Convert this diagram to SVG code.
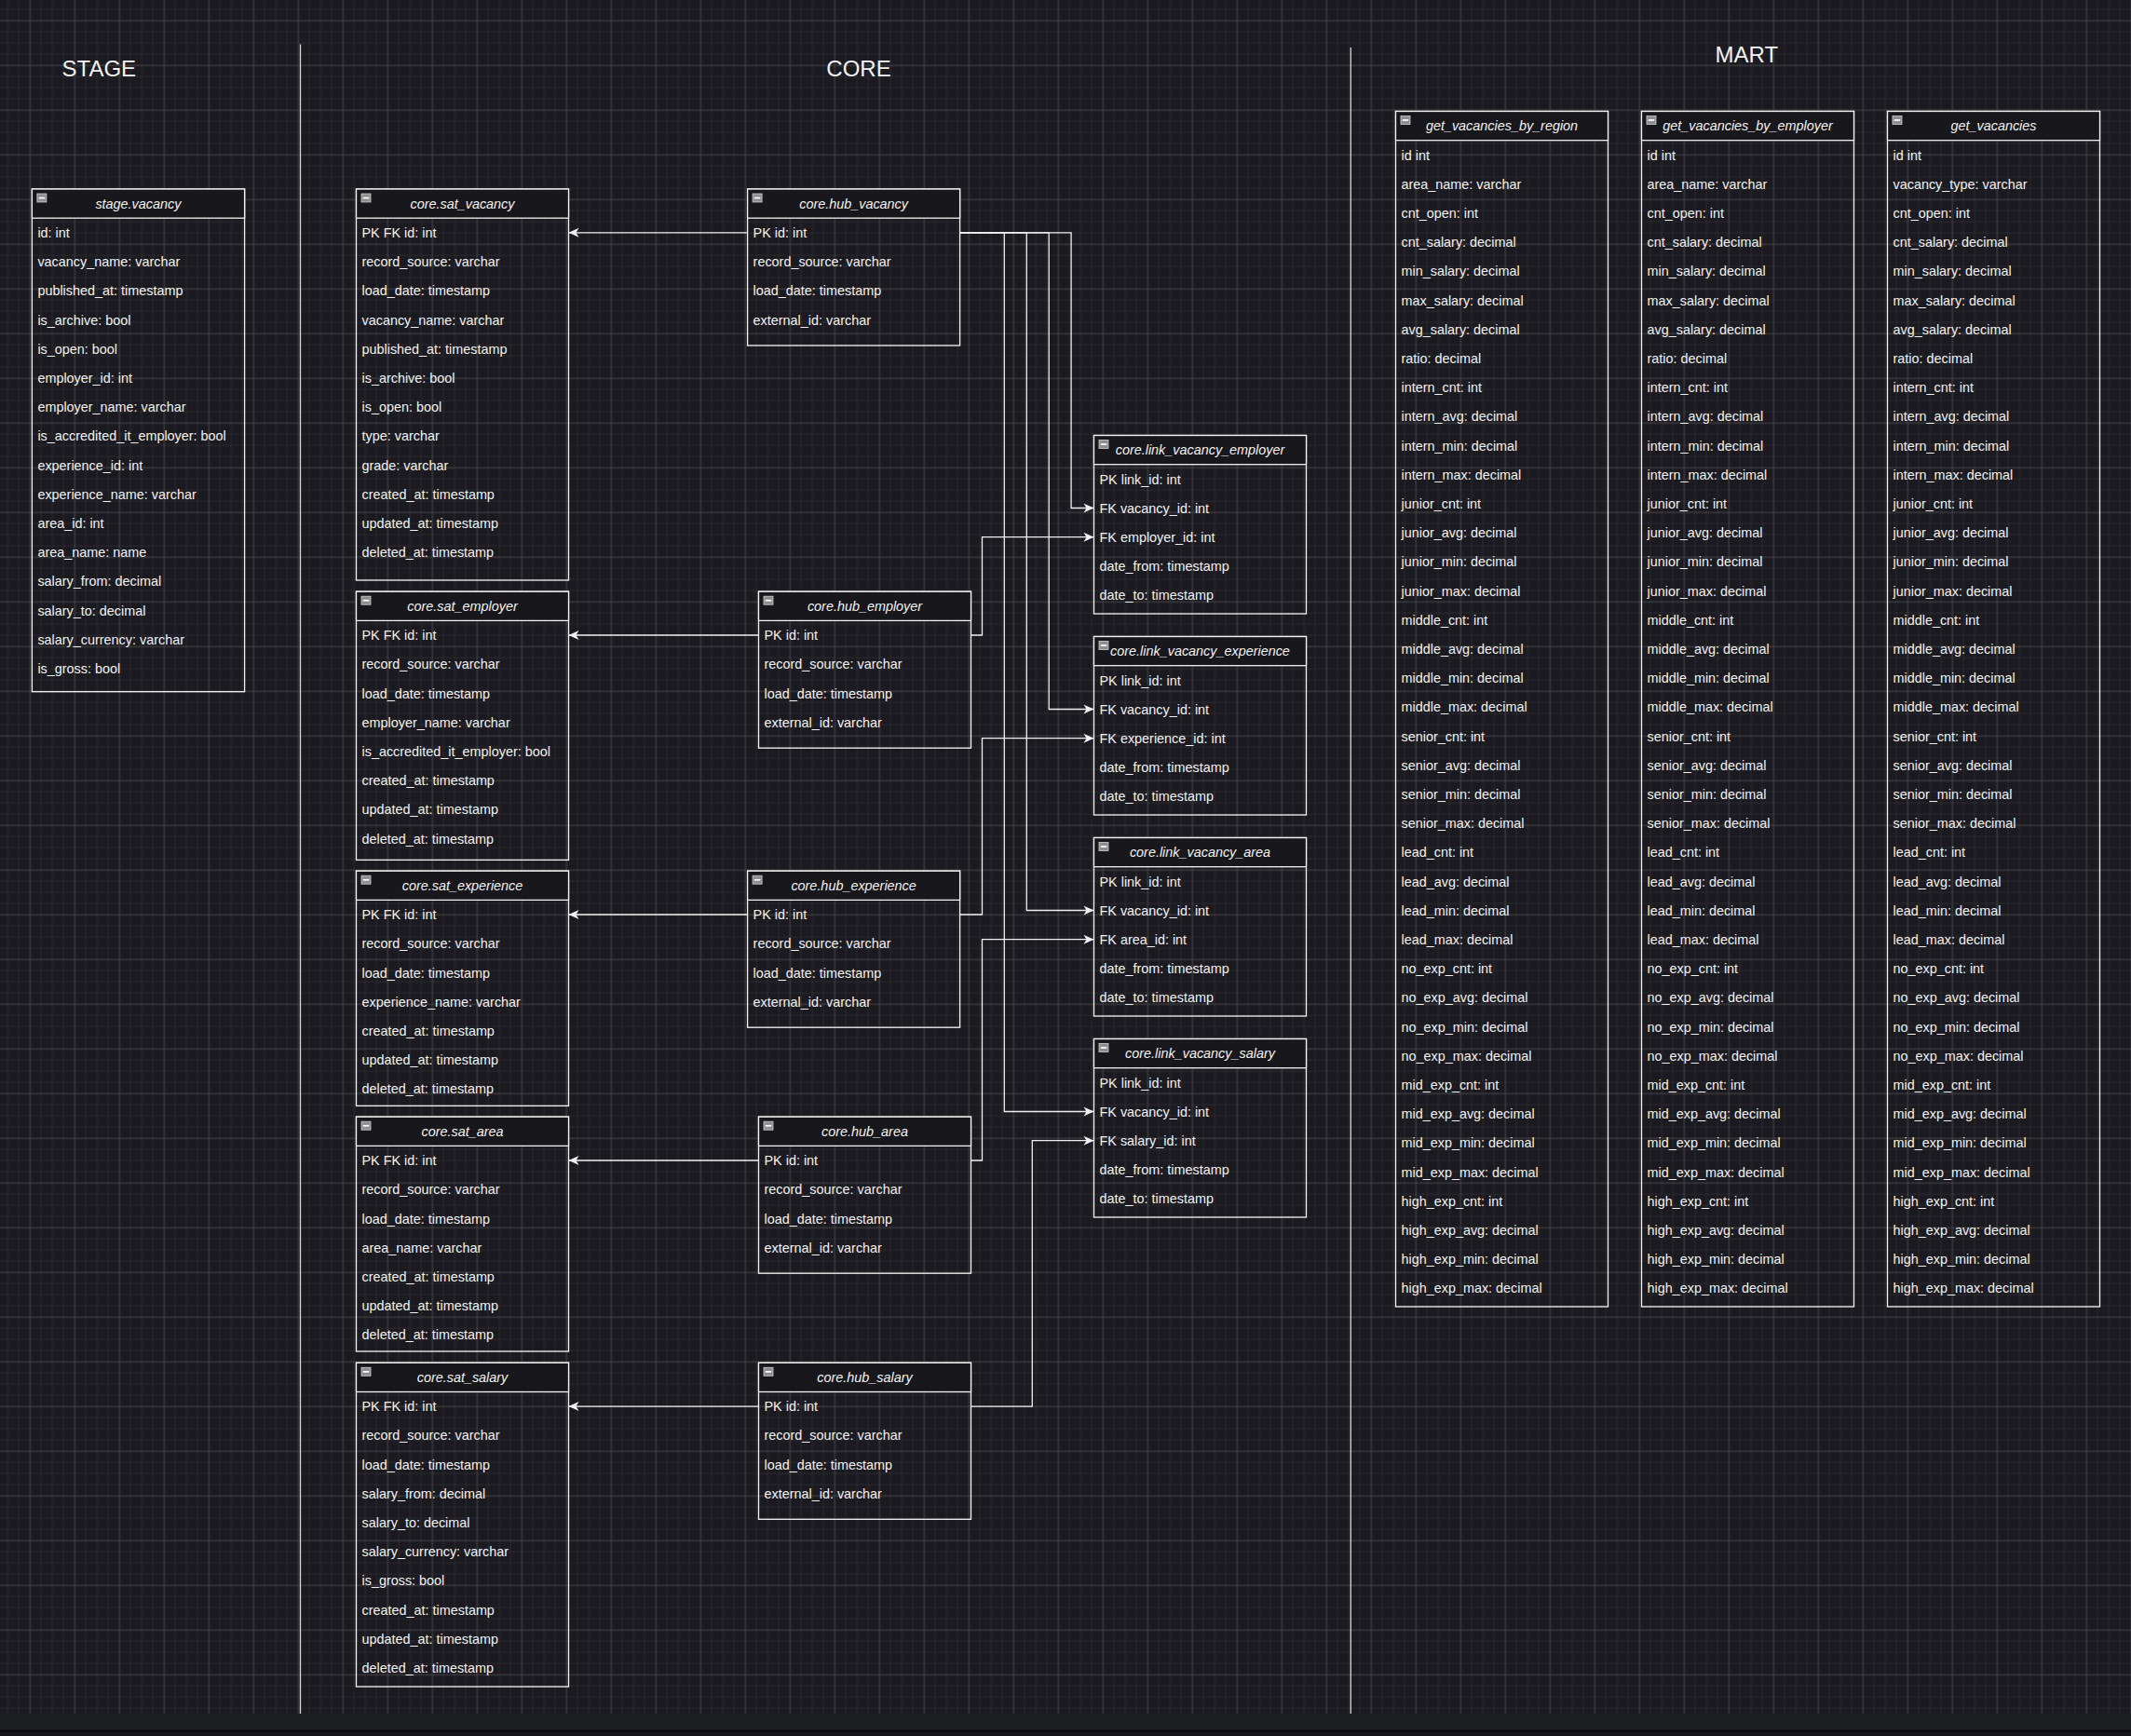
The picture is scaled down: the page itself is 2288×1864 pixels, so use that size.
<svg xmlns="http://www.w3.org/2000/svg" xmlns:xlink="http://www.w3.org/1999/xlink" width="2288" height="1864" viewBox="0 0 2288 1864">
<style>
.t{font-family:"Liberation Sans",Arial,Helvetica,sans-serif;font-size:14.4px;fill:#f2f2f2}
.h{font-style:italic;text-anchor:middle}
.title{font-family:"Liberation Sans",Arial,Helvetica,sans-serif;font-size:24px;fill:#f2f2f2;text-anchor:middle}
.box{fill:none;stroke:#f4f4f4;stroke-width:1.3}
.hdr{fill:#18171c;stroke:#f4f4f4;stroke-width:1.3}
.sep{stroke:#d8d8d8;stroke-width:1.3}
.conn{fill:none;stroke:#f0f0f0;stroke-width:1.3}
</style>
<defs>
<pattern id="grid" width="48" height="48" patternUnits="userSpaceOnUse" x="32.3" y="22.3">
<rect width="48" height="48" fill="#1b1a20"/>
<path d="M12 0V48M24 0V48M36 0V48M0 12H48M0 24H48M0 36H48" stroke="#2a292f" stroke-width="1"/>
<path d="M0 0V48M48 0V48M0 0H48M0 48H48" stroke="#48474c" stroke-width="1"/>
</pattern>
<g id="icon"><rect x="0" y="0" width="10" height="9" fill="#8e8e8e" stroke="#cfcfcf" stroke-width="0.8"/><rect x="1.8" y="3.7" width="6.4" height="1.7" fill="#ffffff"/></g>
<marker id="arr" viewBox="-12 -6 13 12" refX="0" refY="0" markerWidth="13" markerHeight="12" markerUnits="userSpaceOnUse" orient="auto">
<path d="M0,0 L-11,-5 L-8,0 L-11,5 Z" fill="#f0f0f0"/>
</marker>
</defs>

<rect x="0" y="0" width="2288" height="1840" fill="url(#grid)"/>
<rect x="0" y="1840" width="2288" height="24" fill="#1d1e20"/>
<rect x="0" y="1857.5" width="2288" height="2.5" fill="#0b0b0c"/>
<rect x="0" y="1860" width="2288" height="4" fill="#17171a"/>

<g id="labels">
<text class="title" x="106.3" y="82.3">STAGE</text>
<text class="title" x="922" y="82.3">CORE</text>
<text class="title" x="1875.3" y="67.3">MART</text>
<line class="sep" x1="322.5" y1="47.5" x2="322.5" y2="1840"/>
<line class="sep" x1="1450.3" y1="51" x2="1450.3" y2="1840"/>
</g>

<g id="stage_vacancy" transform="translate(34.4,203)">
<rect class="box" width="228.2" height="539.7"/><rect class="hdr" width="228.2" height="31.2"/><use xlink:href="#icon" x="5.5" y="5"/>
<text class="t h" x="114" y="20.7">stage.vacancy</text>
<text class="t" x="6" y="52">id: int</text>
<text class="t" x="6" y="83.2">vacancy_name: varchar</text>
<text class="t" x="6" y="114.4">published_at: timestamp</text>
<text class="t" x="6" y="145.6">is_archive: bool</text>
<text class="t" x="6" y="176.8">is_open: bool</text>
<text class="t" x="6" y="208">employer_id: int</text>
<text class="t" x="6" y="239.2">employer_name: varchar</text>
<text class="t" x="6" y="270.4">is_accredited_it_employer: bool</text>
<text class="t" x="6" y="301.6">experience_id: int</text>
<text class="t" x="6" y="332.8">experience_name: varchar</text>
<text class="t" x="6" y="364">area_id: int</text>
<text class="t" x="6" y="395.2">area_name: name</text>
<text class="t" x="6" y="426.4">salary_from: decimal</text>
<text class="t" x="6" y="457.6">salary_to: decimal</text>
<text class="t" x="6" y="488.8">salary_currency: varchar</text>
<text class="t" x="6" y="520">is_gross: bool</text>
</g>

<g id="sat_vacancy" transform="translate(382.5,203)">
<rect class="box" width="228" height="420"/><rect class="hdr" width="228" height="31.2"/><use xlink:href="#icon" x="5.5" y="5"/>
<text class="t h" x="114" y="20.7">core.sat_vacancy</text>
<text class="t" x="6" y="52">PK FK id: int</text>
<text class="t" x="6" y="83.2">record_source: varchar</text>
<text class="t" x="6" y="114.4">load_date: timestamp</text>
<text class="t" x="6" y="145.6">vacancy_name: varchar</text>
<text class="t" x="6" y="176.8">published_at: timestamp</text>
<text class="t" x="6" y="208">is_archive: bool</text>
<text class="t" x="6" y="239.2">is_open: bool</text>
<text class="t" x="6" y="270.4">type: varchar</text>
<text class="t" x="6" y="301.6">grade: varchar</text>
<text class="t" x="6" y="332.8">created_at: timestamp</text>
<text class="t" x="6" y="364">updated_at: timestamp</text>
<text class="t" x="6" y="395.2">deleted_at: timestamp</text>
</g>

<g id="hub_vacancy" transform="translate(802.6,203)">
<rect class="box" width="228" height="168"/><rect class="hdr" width="228" height="31.2"/><use xlink:href="#icon" x="5.5" y="5"/>
<text class="t h" x="114" y="20.7">core.hub_vacancy</text>
<text class="t" x="6" y="52">PK id: int</text>
<text class="t" x="6" y="83.2">record_source: varchar</text>
<text class="t" x="6" y="114.4">load_date: timestamp</text>
<text class="t" x="6" y="145.6">external_id: varchar</text>
</g>

<g id="link_vacancy_employer" transform="translate(1174.5,467.5)">
<rect class="box" width="228" height="191.5"/><rect class="hdr" width="228" height="31.2"/><use xlink:href="#icon" x="5.5" y="5"/>
<text class="t h" x="114" y="20.7">core.link_vacancy_employer</text>
<text class="t" x="6" y="52">PK link_id: int</text>
<text class="t" x="6" y="83.2">FK vacancy_id: int</text>
<text class="t" x="6" y="114.4">FK employer_id: int</text>
<text class="t" x="6" y="145.6">date_from: timestamp</text>
<text class="t" x="6" y="176.8">date_to: timestamp</text>
</g>

<g id="sat_employer" transform="translate(382.5,635.2)">
<rect class="box" width="228" height="288.2"/><rect class="hdr" width="228" height="31.2"/><use xlink:href="#icon" x="5.5" y="5"/>
<text class="t h" x="114" y="20.7">core.sat_employer</text>
<text class="t" x="6" y="52">PK FK id: int</text>
<text class="t" x="6" y="83.2">record_source: varchar</text>
<text class="t" x="6" y="114.4">load_date: timestamp</text>
<text class="t" x="6" y="145.6">employer_name: varchar</text>
<text class="t" x="6" y="176.8">is_accredited_it_employer: bool</text>
<text class="t" x="6" y="208">created_at: timestamp</text>
<text class="t" x="6" y="239.2">updated_at: timestamp</text>
<text class="t" x="6" y="270.4">deleted_at: timestamp</text>
</g>

<g id="hub_employer" transform="translate(814.5,635.2)">
<rect class="box" width="228" height="168"/><rect class="hdr" width="228" height="31.2"/><use xlink:href="#icon" x="5.5" y="5"/>
<text class="t h" x="114" y="20.7">core.hub_employer</text>
<text class="t" x="6" y="52">PK id: int</text>
<text class="t" x="6" y="83.2">record_source: varchar</text>
<text class="t" x="6" y="114.4">load_date: timestamp</text>
<text class="t" x="6" y="145.6">external_id: varchar</text>
</g>

<g id="link_vacancy_experience" transform="translate(1174.5,683.5)">
<rect class="box" width="228" height="191.5"/><rect class="hdr" width="228" height="31.2"/><use xlink:href="#icon" x="5.5" y="5"/>
<text class="t h" x="114" y="20.7">core.link_vacancy_experience</text>
<text class="t" x="6" y="52">PK link_id: int</text>
<text class="t" x="6" y="83.2">FK vacancy_id: int</text>
<text class="t" x="6" y="114.4">FK experience_id: int</text>
<text class="t" x="6" y="145.6">date_from: timestamp</text>
<text class="t" x="6" y="176.8">date_to: timestamp</text>
</g>

<g id="sat_experience" transform="translate(382.5,935.2)">
<rect class="box" width="228" height="252.2"/><rect class="hdr" width="228" height="31.2"/><use xlink:href="#icon" x="5.5" y="5"/>
<text class="t h" x="114" y="20.7">core.sat_experience</text>
<text class="t" x="6" y="52">PK FK id: int</text>
<text class="t" x="6" y="83.2">record_source: varchar</text>
<text class="t" x="6" y="114.4">load_date: timestamp</text>
<text class="t" x="6" y="145.6">experience_name: varchar</text>
<text class="t" x="6" y="176.8">created_at: timestamp</text>
<text class="t" x="6" y="208">updated_at: timestamp</text>
<text class="t" x="6" y="239.2">deleted_at: timestamp</text>
</g>

<g id="hub_experience" transform="translate(802.6,935.2)">
<rect class="box" width="228" height="168"/><rect class="hdr" width="228" height="31.2"/><use xlink:href="#icon" x="5.5" y="5"/>
<text class="t h" x="114" y="20.7">core.hub_experience</text>
<text class="t" x="6" y="52">PK id: int</text>
<text class="t" x="6" y="83.2">record_source: varchar</text>
<text class="t" x="6" y="114.4">load_date: timestamp</text>
<text class="t" x="6" y="145.6">external_id: varchar</text>
</g>

<g id="link_vacancy_area" transform="translate(1174.5,899.5)">
<rect class="box" width="228" height="191.5"/><rect class="hdr" width="228" height="31.2"/><use xlink:href="#icon" x="5.5" y="5"/>
<text class="t h" x="114" y="20.7">core.link_vacancy_area</text>
<text class="t" x="6" y="52">PK link_id: int</text>
<text class="t" x="6" y="83.2">FK vacancy_id: int</text>
<text class="t" x="6" y="114.4">FK area_id: int</text>
<text class="t" x="6" y="145.6">date_from: timestamp</text>
<text class="t" x="6" y="176.8">date_to: timestamp</text>
</g>

<g id="sat_area" transform="translate(382.5,1199.2)">
<rect class="box" width="228" height="251.8"/><rect class="hdr" width="228" height="31.2"/><use xlink:href="#icon" x="5.5" y="5"/>
<text class="t h" x="114" y="20.7">core.sat_area</text>
<text class="t" x="6" y="52">PK FK id: int</text>
<text class="t" x="6" y="83.2">record_source: varchar</text>
<text class="t" x="6" y="114.4">load_date: timestamp</text>
<text class="t" x="6" y="145.6">area_name: varchar</text>
<text class="t" x="6" y="176.8">created_at: timestamp</text>
<text class="t" x="6" y="208">updated_at: timestamp</text>
<text class="t" x="6" y="239.2">deleted_at: timestamp</text>
</g>

<g id="hub_area" transform="translate(814.5,1199.2)">
<rect class="box" width="228" height="168"/><rect class="hdr" width="228" height="31.2"/><use xlink:href="#icon" x="5.5" y="5"/>
<text class="t h" x="114" y="20.7">core.hub_area</text>
<text class="t" x="6" y="52">PK id: int</text>
<text class="t" x="6" y="83.2">record_source: varchar</text>
<text class="t" x="6" y="114.4">load_date: timestamp</text>
<text class="t" x="6" y="145.6">external_id: varchar</text>
</g>

<g id="link_vacancy_salary" transform="translate(1174.5,1115.5)">
<rect class="box" width="228" height="191.5"/><rect class="hdr" width="228" height="31.2"/><use xlink:href="#icon" x="5.5" y="5"/>
<text class="t h" x="114" y="20.7">core.link_vacancy_salary</text>
<text class="t" x="6" y="52">PK link_id: int</text>
<text class="t" x="6" y="83.2">FK vacancy_id: int</text>
<text class="t" x="6" y="114.4">FK salary_id: int</text>
<text class="t" x="6" y="145.6">date_from: timestamp</text>
<text class="t" x="6" y="176.8">date_to: timestamp</text>
</g>

<g id="sat_salary" transform="translate(382.5,1463.3)">
<rect class="box" width="228" height="347.7"/><rect class="hdr" width="228" height="31.2"/><use xlink:href="#icon" x="5.5" y="5"/>
<text class="t h" x="114" y="20.7">core.sat_salary</text>
<text class="t" x="6" y="52">PK FK id: int</text>
<text class="t" x="6" y="83.2">record_source: varchar</text>
<text class="t" x="6" y="114.4">load_date: timestamp</text>
<text class="t" x="6" y="145.6">salary_from: decimal</text>
<text class="t" x="6" y="176.8">salary_to: decimal</text>
<text class="t" x="6" y="208">salary_currency: varchar</text>
<text class="t" x="6" y="239.2">is_gross: bool</text>
<text class="t" x="6" y="270.4">created_at: timestamp</text>
<text class="t" x="6" y="301.6">updated_at: timestamp</text>
<text class="t" x="6" y="332.8">deleted_at: timestamp</text>
</g>

<g id="hub_salary" transform="translate(814.5,1463.3)">
<rect class="box" width="228" height="168"/><rect class="hdr" width="228" height="31.2"/><use xlink:href="#icon" x="5.5" y="5"/>
<text class="t h" x="114" y="20.7">core.hub_salary</text>
<text class="t" x="6" y="52">PK id: int</text>
<text class="t" x="6" y="83.2">record_source: varchar</text>
<text class="t" x="6" y="114.4">load_date: timestamp</text>
<text class="t" x="6" y="145.6">external_id: varchar</text>
</g>

<g id="get_vacancies_by_region" transform="translate(1498.5,119.5)">
<rect class="box" width="228" height="1283.5"/><rect class="hdr" width="228" height="31.2"/><use xlink:href="#icon" x="5.5" y="5"/>
<text class="t h" x="114" y="20.7">get_vacancies_by_region</text>
<text class="t" x="6" y="52">id int</text>
<text class="t" x="6" y="83.2">area_name: varchar</text>
<text class="t" x="6" y="114.4">cnt_open: int</text>
<text class="t" x="6" y="145.6">cnt_salary: decimal</text>
<text class="t" x="6" y="176.8">min_salary: decimal</text>
<text class="t" x="6" y="208">max_salary: decimal</text>
<text class="t" x="6" y="239.2">avg_salary: decimal</text>
<text class="t" x="6" y="270.4">ratio: decimal</text>
<text class="t" x="6" y="301.6">intern_cnt: int</text>
<text class="t" x="6" y="332.8">intern_avg: decimal</text>
<text class="t" x="6" y="364">intern_min: decimal</text>
<text class="t" x="6" y="395.2">intern_max: decimal</text>
<text class="t" x="6" y="426.4">junior_cnt: int</text>
<text class="t" x="6" y="457.6">junior_avg: decimal</text>
<text class="t" x="6" y="488.8">junior_min: decimal</text>
<text class="t" x="6" y="520">junior_max: decimal</text>
<text class="t" x="6" y="551.2">middle_cnt: int</text>
<text class="t" x="6" y="582.4">middle_avg: decimal</text>
<text class="t" x="6" y="613.6">middle_min: decimal</text>
<text class="t" x="6" y="644.8">middle_max: decimal</text>
<text class="t" x="6" y="676">senior_cnt: int</text>
<text class="t" x="6" y="707.2">senior_avg: decimal</text>
<text class="t" x="6" y="738.4">senior_min: decimal</text>
<text class="t" x="6" y="769.6">senior_max: decimal</text>
<text class="t" x="6" y="800.8">lead_cnt: int</text>
<text class="t" x="6" y="832">lead_avg: decimal</text>
<text class="t" x="6" y="863.2">lead_min: decimal</text>
<text class="t" x="6" y="894.4">lead_max: decimal</text>
<text class="t" x="6" y="925.6">no_exp_cnt: int</text>
<text class="t" x="6" y="956.8">no_exp_avg: decimal</text>
<text class="t" x="6" y="988">no_exp_min: decimal</text>
<text class="t" x="6" y="1019.2">no_exp_max: decimal</text>
<text class="t" x="6" y="1050.4">mid_exp_cnt: int</text>
<text class="t" x="6" y="1081.6">mid_exp_avg: decimal</text>
<text class="t" x="6" y="1112.8">mid_exp_min: decimal</text>
<text class="t" x="6" y="1144">mid_exp_max: decimal</text>
<text class="t" x="6" y="1175.2">high_exp_cnt: int</text>
<text class="t" x="6" y="1206.4">high_exp_avg: decimal</text>
<text class="t" x="6" y="1237.6">high_exp_min: decimal</text>
<text class="t" x="6" y="1268.8">high_exp_max: decimal</text>
</g>

<g id="get_vacancies_by_employer" transform="translate(1762.5,119.5)">
<rect class="box" width="228" height="1283.5"/><rect class="hdr" width="228" height="31.2"/><use xlink:href="#icon" x="5.5" y="5"/>
<text class="t h" x="114" y="20.7">get_vacancies_by_employer</text>
<text class="t" x="6" y="52">id int</text>
<text class="t" x="6" y="83.2">area_name: varchar</text>
<text class="t" x="6" y="114.4">cnt_open: int</text>
<text class="t" x="6" y="145.6">cnt_salary: decimal</text>
<text class="t" x="6" y="176.8">min_salary: decimal</text>
<text class="t" x="6" y="208">max_salary: decimal</text>
<text class="t" x="6" y="239.2">avg_salary: decimal</text>
<text class="t" x="6" y="270.4">ratio: decimal</text>
<text class="t" x="6" y="301.6">intern_cnt: int</text>
<text class="t" x="6" y="332.8">intern_avg: decimal</text>
<text class="t" x="6" y="364">intern_min: decimal</text>
<text class="t" x="6" y="395.2">intern_max: decimal</text>
<text class="t" x="6" y="426.4">junior_cnt: int</text>
<text class="t" x="6" y="457.6">junior_avg: decimal</text>
<text class="t" x="6" y="488.8">junior_min: decimal</text>
<text class="t" x="6" y="520">junior_max: decimal</text>
<text class="t" x="6" y="551.2">middle_cnt: int</text>
<text class="t" x="6" y="582.4">middle_avg: decimal</text>
<text class="t" x="6" y="613.6">middle_min: decimal</text>
<text class="t" x="6" y="644.8">middle_max: decimal</text>
<text class="t" x="6" y="676">senior_cnt: int</text>
<text class="t" x="6" y="707.2">senior_avg: decimal</text>
<text class="t" x="6" y="738.4">senior_min: decimal</text>
<text class="t" x="6" y="769.6">senior_max: decimal</text>
<text class="t" x="6" y="800.8">lead_cnt: int</text>
<text class="t" x="6" y="832">lead_avg: decimal</text>
<text class="t" x="6" y="863.2">lead_min: decimal</text>
<text class="t" x="6" y="894.4">lead_max: decimal</text>
<text class="t" x="6" y="925.6">no_exp_cnt: int</text>
<text class="t" x="6" y="956.8">no_exp_avg: decimal</text>
<text class="t" x="6" y="988">no_exp_min: decimal</text>
<text class="t" x="6" y="1019.2">no_exp_max: decimal</text>
<text class="t" x="6" y="1050.4">mid_exp_cnt: int</text>
<text class="t" x="6" y="1081.6">mid_exp_avg: decimal</text>
<text class="t" x="6" y="1112.8">mid_exp_min: decimal</text>
<text class="t" x="6" y="1144">mid_exp_max: decimal</text>
<text class="t" x="6" y="1175.2">high_exp_cnt: int</text>
<text class="t" x="6" y="1206.4">high_exp_avg: decimal</text>
<text class="t" x="6" y="1237.6">high_exp_min: decimal</text>
<text class="t" x="6" y="1268.8">high_exp_max: decimal</text>
</g>

<g id="get_vacancies" transform="translate(2026.5,119.5)">
<rect class="box" width="228" height="1283.5"/><rect class="hdr" width="228" height="31.2"/><use xlink:href="#icon" x="5.5" y="5"/>
<text class="t h" x="114" y="20.7">get_vacancies</text>
<text class="t" x="6" y="52">id int</text>
<text class="t" x="6" y="83.2">vacancy_type: varchar</text>
<text class="t" x="6" y="114.4">cnt_open: int</text>
<text class="t" x="6" y="145.6">cnt_salary: decimal</text>
<text class="t" x="6" y="176.8">min_salary: decimal</text>
<text class="t" x="6" y="208">max_salary: decimal</text>
<text class="t" x="6" y="239.2">avg_salary: decimal</text>
<text class="t" x="6" y="270.4">ratio: decimal</text>
<text class="t" x="6" y="301.6">intern_cnt: int</text>
<text class="t" x="6" y="332.8">intern_avg: decimal</text>
<text class="t" x="6" y="364">intern_min: decimal</text>
<text class="t" x="6" y="395.2">intern_max: decimal</text>
<text class="t" x="6" y="426.4">junior_cnt: int</text>
<text class="t" x="6" y="457.6">junior_avg: decimal</text>
<text class="t" x="6" y="488.8">junior_min: decimal</text>
<text class="t" x="6" y="520">junior_max: decimal</text>
<text class="t" x="6" y="551.2">middle_cnt: int</text>
<text class="t" x="6" y="582.4">middle_avg: decimal</text>
<text class="t" x="6" y="613.6">middle_min: decimal</text>
<text class="t" x="6" y="644.8">middle_max: decimal</text>
<text class="t" x="6" y="676">senior_cnt: int</text>
<text class="t" x="6" y="707.2">senior_avg: decimal</text>
<text class="t" x="6" y="738.4">senior_min: decimal</text>
<text class="t" x="6" y="769.6">senior_max: decimal</text>
<text class="t" x="6" y="800.8">lead_cnt: int</text>
<text class="t" x="6" y="832">lead_avg: decimal</text>
<text class="t" x="6" y="863.2">lead_min: decimal</text>
<text class="t" x="6" y="894.4">lead_max: decimal</text>
<text class="t" x="6" y="925.6">no_exp_cnt: int</text>
<text class="t" x="6" y="956.8">no_exp_avg: decimal</text>
<text class="t" x="6" y="988">no_exp_min: decimal</text>
<text class="t" x="6" y="1019.2">no_exp_max: decimal</text>
<text class="t" x="6" y="1050.4">mid_exp_cnt: int</text>
<text class="t" x="6" y="1081.6">mid_exp_avg: decimal</text>
<text class="t" x="6" y="1112.8">mid_exp_min: decimal</text>
<text class="t" x="6" y="1144">mid_exp_max: decimal</text>
<text class="t" x="6" y="1175.2">high_exp_cnt: int</text>
<text class="t" x="6" y="1206.4">high_exp_avg: decimal</text>
<text class="t" x="6" y="1237.6">high_exp_min: decimal</text>
<text class="t" x="6" y="1268.8">high_exp_max: decimal</text>
</g>

<g id="connectors">
<path class="conn" d="M802.6,249.8 H610.5" marker-end="url(#arr)"/>
<path class="conn" d="M1030.6,249.8 H1150.1 V545.5 H1174.5" marker-end="url(#arr)"/>
<path class="conn" d="M1030.6,249.8 H1126.2 V761.5 H1174.5" marker-end="url(#arr)"/>
<path class="conn" d="M1030.6,249.8 H1102.3 V977.5 H1174.5" marker-end="url(#arr)"/>
<path class="conn" d="M1030.6,249.8 H1078.3 V1193.5 H1174.5" marker-end="url(#arr)"/>
<path class="conn" d="M814.5,682 H610.5" marker-end="url(#arr)"/>
<path class="conn" d="M1042.5,682 H1054.5 V576.7 H1174.5" marker-end="url(#arr)"/>
<path class="conn" d="M802.6,982 H610.5" marker-end="url(#arr)"/>
<path class="conn" d="M1030.6,982 H1054.5 V792.7 H1174.5" marker-end="url(#arr)"/>
<path class="conn" d="M814.5,1246 H610.5" marker-end="url(#arr)"/>
<path class="conn" d="M1042.5,1246 H1054.5 V1008.7 H1174.5" marker-end="url(#arr)"/>
<path class="conn" d="M814.5,1510.1 H610.5" marker-end="url(#arr)"/>
<path class="conn" d="M1042.5,1510.1 H1108.3 V1224.7 H1174.5" marker-end="url(#arr)"/>
</g>
</svg>
